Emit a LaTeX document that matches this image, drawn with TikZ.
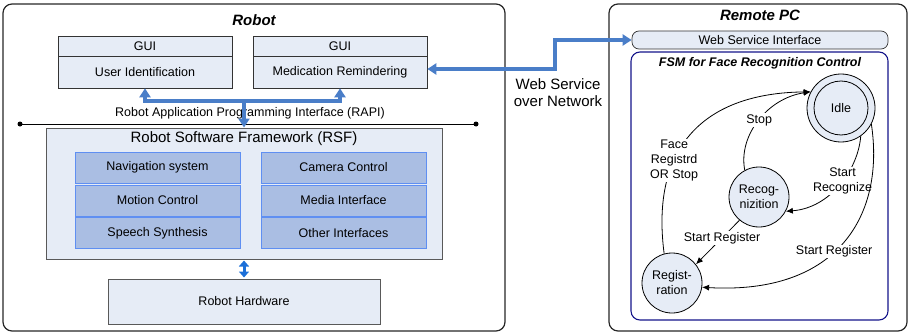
\documentclass[tikz,border=0pt]{standalone}
\usepackage{fontspec}
\setmainfont{Liberation Sans}
\usetikzlibrary{arrows.meta}

\definecolor{boxfill}{HTML}{E6ECF6}
\definecolor{modfill}{HTML}{AABEE3}
\definecolor{modline}{HTML}{5F8FF2}
\definecolor{linkblue}{HTML}{4A7EC8}
\definecolor{hwblue}{HTML}{1B6FD8}
\definecolor{fsmnavy}{HTML}{14148A}

\tikzset{
  txt/.style={font=\fontsize{12.5}{15}\selectfont},
  frame/.style={draw=black!85, line width=1.2pt, rounded corners=9pt, inner sep=0pt},
  title/.style={font=\fontsize{15}{18}\selectfont\bfseries\itshape},
  lightbox/.style={draw=black!80, fill=boxfill, line width=0.7pt, inner sep=0pt, txt},
  modbox/.style={draw=modline, fill=modfill, line width=0.9pt, minimum width=165pt,
                 minimum height=31pt, inner sep=0pt, txt},
  bluelink/.style={draw=linkblue, line width=3.5pt},
  bluetip/.style={-{Triangle[length=9pt,width=11pt]}},
  busdot/.style={circle, fill=black, minimum size=5pt, inner sep=0pt},
  state/.style={circle, draw=black, fill=boxfill, line width=0.8pt, minimum size=60pt,
                inner sep=0pt, txt, align=center},
  trans/.style={-{Latex[length=7pt,width=6pt]}, line width=0.8pt},
  lbl/.style={fill=white, inner sep=1pt, txt, align=center}
}

\begin{document}
\begin{tikzpicture}[x=1pt, y=-1pt]
\useasboundingbox (0,0) rectangle (909,334);

% ---------------- Robot side ----------------
\node[frame, minimum width=502pt, minimum height=327pt] (robot) at (254,167.5) {};
\node[title] (robottitle) at (254,20) {Robot};

% GUI applications
\node[lightbox, minimum width=174pt, minimum height=20pt] (gui1h) at (145,46) {GUI};
\node[lightbox, minimum width=174pt, minimum height=32pt] (gui1b) at (145,72) {User Identification};
\node[lightbox, minimum width=174pt, minimum height=20pt] (gui2h) at (340,46) {GUI};
\node[lightbox, minimum width=174pt, minimum height=32pt] (gui2b) at (340,72) {Medication Remindering};

% RAPI bus
\node[txt] (rapi) at (250,113) {Robot Application Programming Interface (RAPI)};
\node[busdot] (busL) at (20,124) {};
\node[busdot] (busR) at (476,124) {};
\draw[line width=1pt] (busL.center) -- (busR.center);

% Robot Software Framework
\node[lightbox, draw=black!65, line width=1pt, minimum width=396pt, minimum height=131pt] (rsf) at (244,193.5) {};
\node[font=\fontsize{15}{18}\selectfont] (rsftitle) at (244,139) {Robot Software Framework (RSF)};

\node[modbox] (nav)   at (157.5,167.5) {Navigation system};
\node[modbox] (mot)   at (157.5,200.5) {Motion Control};
\node[modbox] (speech) at (157.5,233) {Speech Synthesis};
\node[modbox] (cam)   at (343.5,167.5) {Camera Control};
\node[modbox] (media) at (343.5,200.5) {Media Interface};
\node[modbox] (other) at (343.5,233) {Other Interfaces};

% Robot hardware
\node[lightbox, draw=black!65, line width=1pt, minimum width=272pt, minimum height=45pt] (hw) at (244,301.5) {Robot Hardware};

% links between applications and framework
\coordinate (fork) at (244,101);
\draw[bluelink, bluetip] (fork) -- (rsf.north);
\draw[bluelink, bluetip] (fork) -| (gui1b.south);
\draw[bluelink, bluetip] (fork) -| (gui2b.south);

% framework <-> hardware
\draw[draw=hwblue, line width=3pt, {Triangle[length=6pt,width=10pt]}-{Triangle[length=6pt,width=10pt]},
      shorten <=1pt, shorten >=1pt] (rsf.south) -- (hw.north);

% ---------------- Remote PC side ----------------
\node[frame, minimum width=298pt, minimum height=327pt] (remote) at (758,167.5) {};
\node[title] (remotetitle) at (760,15) {Remote PC};

\node[lightbox, rounded corners=7pt, minimum width=256pt, minimum height=18pt] (wsi) at (760,40) {Web Service Interface};

% web service link
\coordinate (wsbend) at (555,69);
\draw[bluelink, {Triangle[length=9pt,width=11pt]}-{Triangle[length=9pt,width=11pt]}]
  ([yshift=3pt]gui2b.east) -- (wsbend) |- (wsi.west);
\node[font=\fontsize{15}{17}\selectfont, align=center] (wslabel) at (558,93) {Web Service\\over Network};

% FSM panel
\node[draw=fsmnavy, line width=1.1pt, rounded corners=9pt, minimum width=257pt, minimum height=268pt] (fsm) at (759.5,186) {};
\node[font=\fontsize{12.5}{15}\selectfont\bfseries\itshape] (fsmtitle) at (760,63) {FSM for Face Recognition Control};

% states
\node[state, minimum size=68pt] (idle) at (841,108) {};
\node[circle, draw=black, line width=0.8pt, minimum size=54pt, inner sep=0pt, txt] (idlein) at (idle.center) {Idle};
\node[state] (rec) at (759,197) {Recog-\\nizition};
\node[state] (reg) at (672,283) {Regist-\\ration};

% transitions
\draw[trans] (reg.105) .. controls (650,145) and (706,93) .. (idle.152)
  node[lbl, pos=0.35] {Face\\Registrd\\OR Stop};
\draw[trans] (rec.118) .. controls (738,135) and (768,98) .. (idle.152)
  node[lbl, pos=0.5] {Stop};
\draw[trans] (idle.-55) .. controls (858,170) and (830,208) .. (rec.-28)
  node[lbl, pos=0.45] {Start\\Recognize};
\draw[trans] (rec.-130) -- (reg.38)
  node[lbl, pos=0.4] {Start Register};
\draw[trans] (idle.-28) .. controls (885,215) and (838,295) .. (reg.-8)
  node[lbl, pos=0.55] {Start Register};
\end{tikzpicture}
\end{document}
